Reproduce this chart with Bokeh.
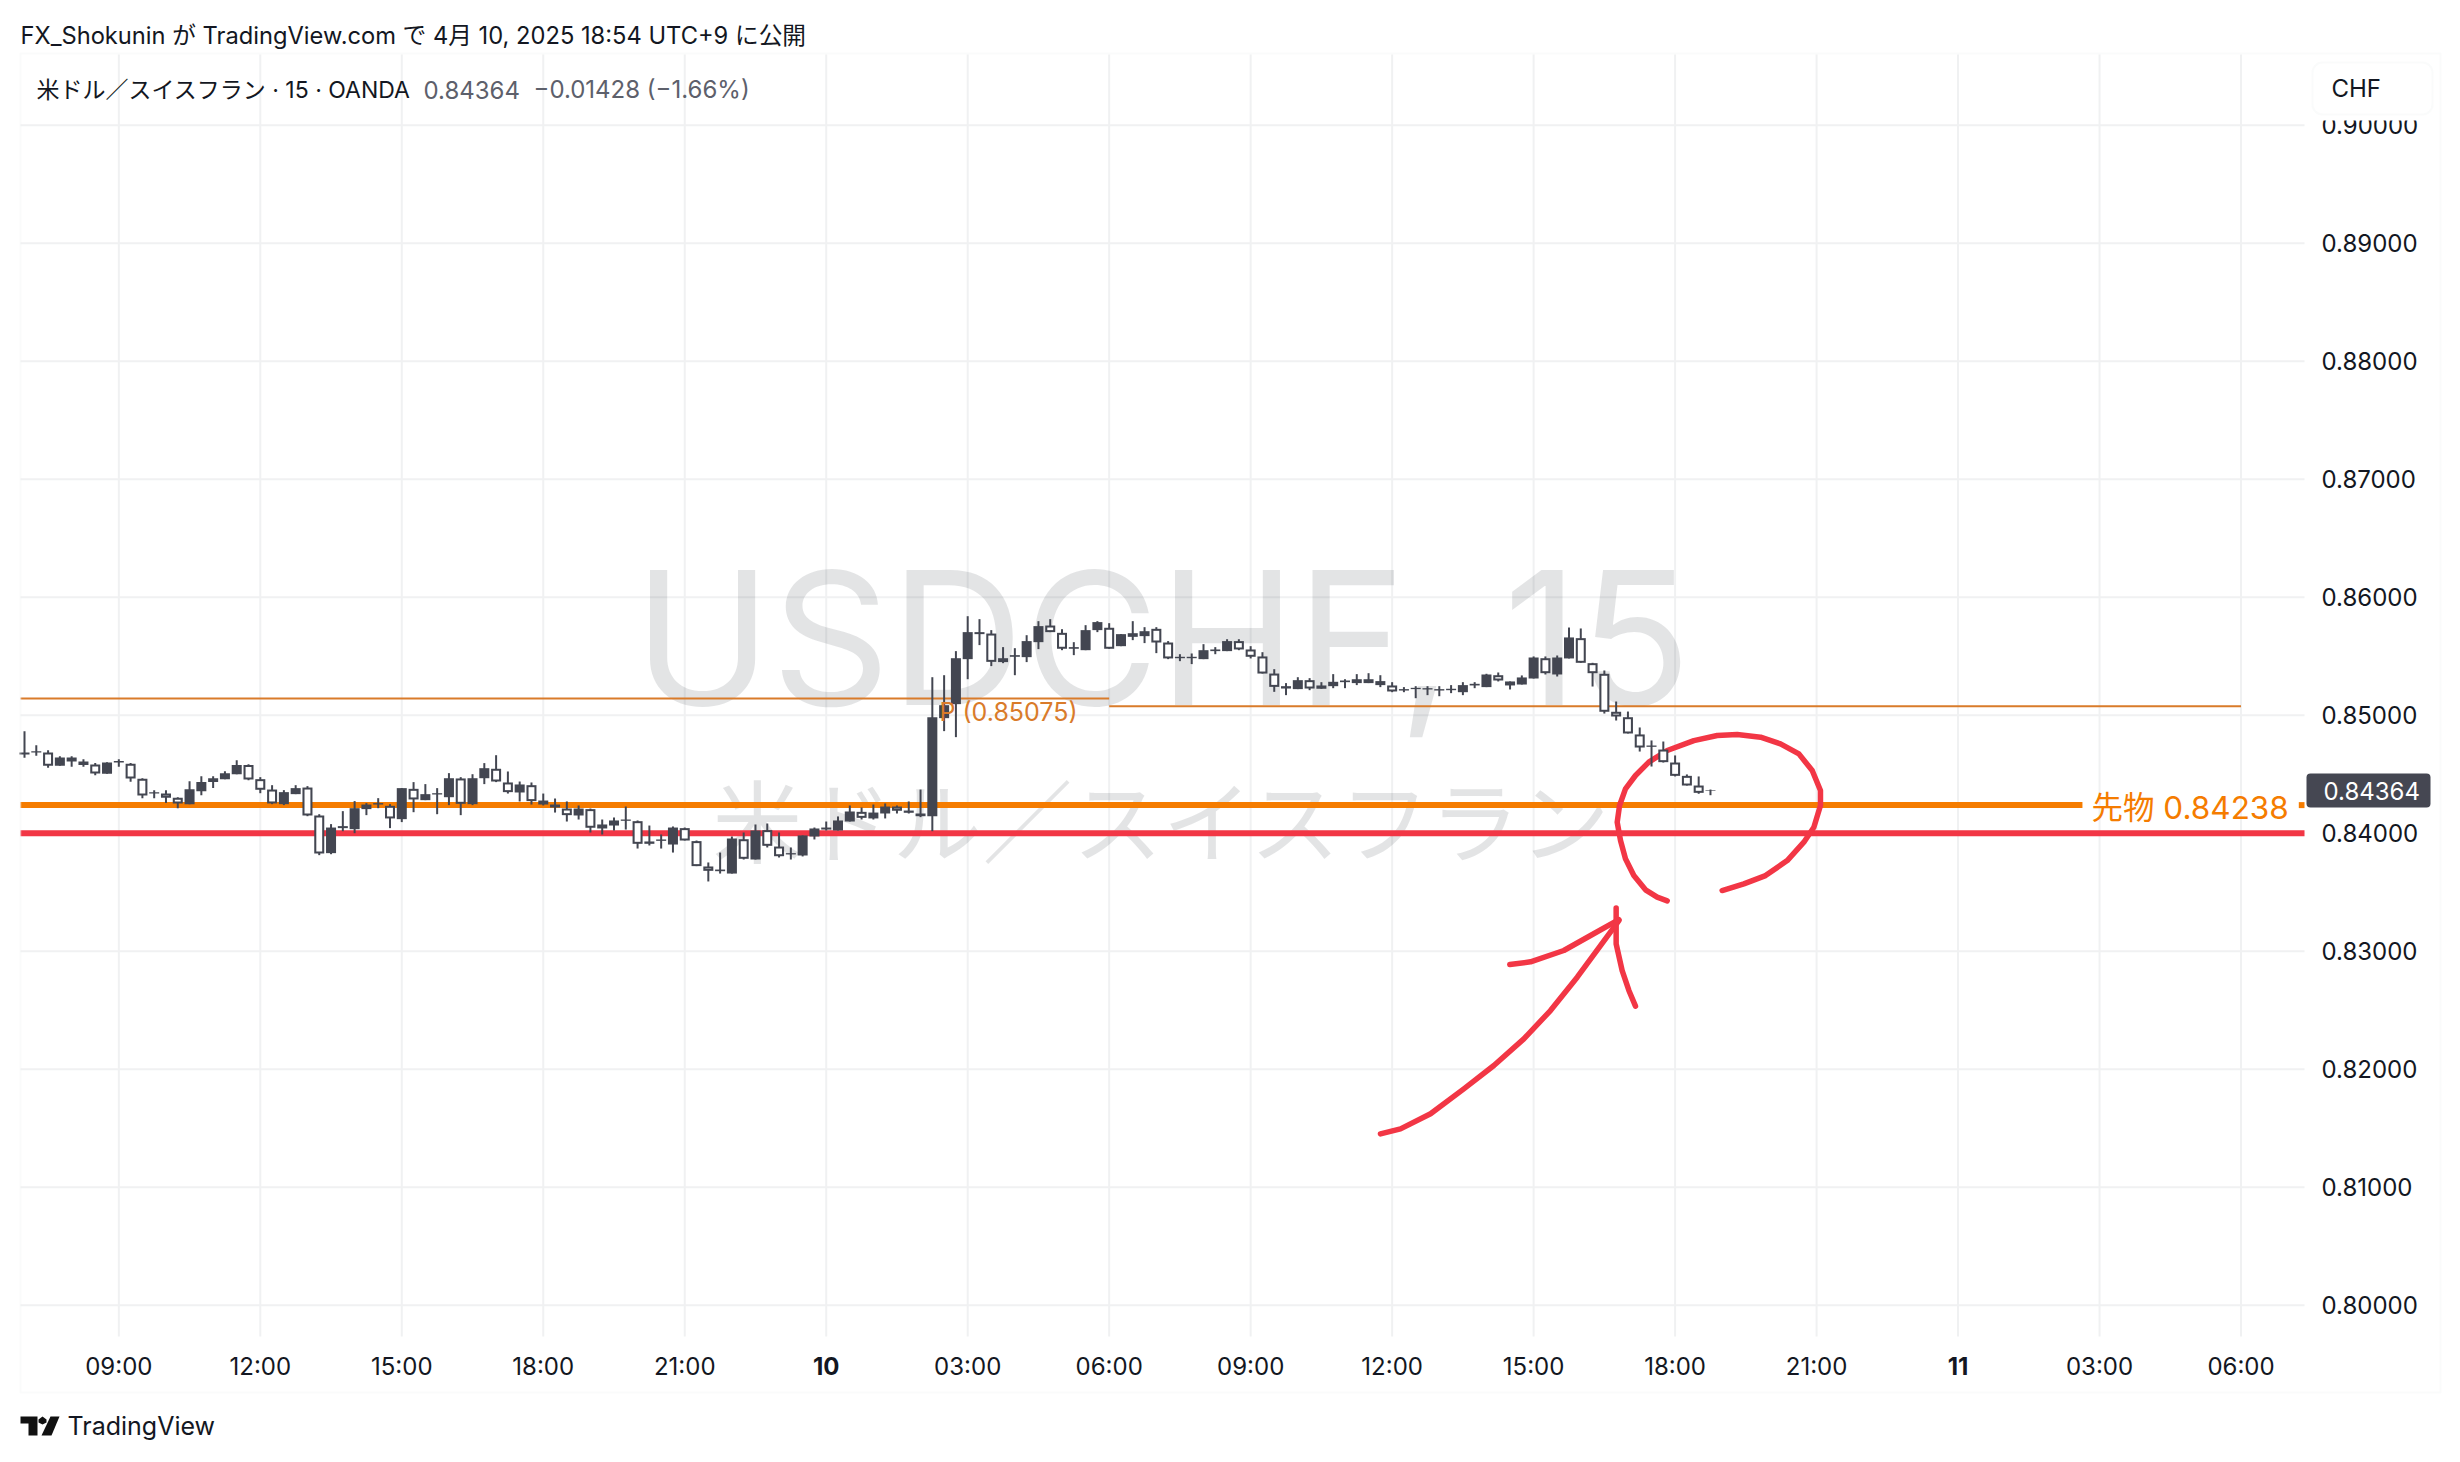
from bokeh.embed import file_html
from bokeh.resources import INLINE
from bokeh.plotting import figure
from bokeh.models import (Range1d, FixedTicker, NumeralTickFormatter, Label, BoxAnnotation,
                          PolyAnnotation, ColumnDataSource)

# ---------- data ----------
highs = [.84865,.84746,.84704,.84653,.84653,.84627,.84594,.84602,.84627,.84594,
.84466,.84365,.84365,.84305,.84441,.84483,.84483,.84526,.84619,.84585,
.84475,.84407,.84365,.84407,.84399,.84161,.84077,.84187,.84272,.84255,
.84297,.84246,.84382,.84433,.84416,.84382,.84509,.84475,.84500,.84594,
.84661,.84523,.84438,.84430,.84336,.84294,.84269,.84235,.84209,.84116,
.84133,.84226,.84108,.84065,.83989,.84057,.84048,.83938,.83752,.83836,
.83972,.84006,.84074,.84082,.84006,.83879,.83981,.84048,.84099,.84142,
.84235,.84218,.84243,.84252,.84235,.84269,.84370,.85322,.85339,.85543,
.85839,.85814,.85721,.85577,.85568,.85678,.85797,.85814,.85729,.85619,
.85763,.85797,.85780,.85687,.85797,.85746,.85746,.85628,.85517,.85523,
.85602,.85577,.85644,.85644,.85585,.85534,.85390,.85272,.85322,.85314,
.85280,.85348,.85305,.85348,.85356,.85339,.85280,.85238,.85246,.85246,
.85246,.85255,.85280,.85280,.85351,.85362,.85286,.85337,.85498,.85498,
.85506,.85743,.85735,.85444,.85379,.85116,.85031,.84896,.84786,.84777,
.84659,.84498,.84481,.84370]
lows = [.84639,.84656,.84554,.84571,.84563,.84563,.84492,.84503,.84563,.84435,
.84297,.84297,.84255,.84212,.84246,.84322,.84382,.84458,.84500,.84449,
.84339,.84246,.84238,.84331,.84144,.83814,.83822,.84017,.84000,.84153,
.84212,.84043,.84094,.84178,.84280,.84161,.84238,.84153,.84238,.84416,
.84433,.84336,.84269,.84243,.84235,.84175,.84099,.84116,.84006,.83989,
.84023,.84031,.83870,.83896,.83870,.83836,.83938,.83721,.83591,.83658,
.83658,.83777,.83777,.83879,.83794,.83777,.83803,.83947,.84023,.84023,
.84099,.84116,.84116,.84125,.84167,.84167,.84136,.84017,.84865,.84814,
.85305,.85594,.85416,.85441,.85339,.85450,.85560,.85704,.85551,.85509,
.85551,.85704,.85563,.85585,.85636,.85611,.85526,.85475,.85458,.85433,
.85475,.85517,.85543,.85551,.85481,.85353,.85198,.85170,.85221,.85212,
.85224,.85229,.85229,.85255,.85272,.85238,.85195,.85195,.85144,.85170,
.85161,.85187,.85170,.85229,.85238,.85286,.85218,.85260,.85311,.85345,
.85328,.85481,.85444,.85243,.85014,.84955,.84845,.84692,.84565,.84599,
.84481,.84404,.84334,.84322]
opens = [.84667,.84684,.84684,.84571,.84642,.84579,.84582,.84503,.84599,.84588,
.84461,.84336,.84336,.84300,.84246,.84356,.84433,.84458,.84500,.84577,
.84458,.84370,.84246,.84331,.84387,.84150,.83831,.84043,.84034,.84204,
.84243,.84232,.84119,.84376,.84280,.84328,.84305,.84464,.84246,.84466,
.84546,.84430,.84345,.84407,.84243,.84218,.84209,.84150,.84204,.84040,
.84065,.84105,.84102,.83910,.83935,.83904,.84043,.83933,.83718,.83678,
.83658,.83949,.83777,.84026,.83887,.83820,.83811,.83972,.84031,.84023,
.84099,.84181,.84125,.84167,.84226,.84173,.84144,.84144,.84975,.85094,
.85475,.85687,.85692,.85450,.85495,.85492,.85619,.85760,.85698,.85563,
.85551,.85721,.85741,.85585,.85664,.85670,.85732,.85616,.85483,.85483,
.85475,.85543,.85543,.85628,.85557,.85498,.85353,.85226,.85221,.85297,
.85224,.85246,.85280,.85272,.85272,.85255,.85252,.85209,.85221,.85218,
.85209,.85212,.85195,.85252,.85238,.85339,.85252,.85260,.85311,.85483,
.85345,.85481,.85653,.85441,.85351,.85029,.84983,.84837,.84732,.84709,
.84599,.84486,.84404,.84359]
closes = [.84684,.84695,.84571,.84642,.84608,.84608,.84506,.84599,.84611,.84464,
.84320,.84348,.84300,.84252,.84373,.84433,.84466,.84509,.84577,.84455,
.84368,.84252,.84348,.84382,.84150,.83828,.84048,.84060,.84212,.84243,
.84255,.84125,.84382,.84286,.84331,.84339,.84466,.84249,.84466,.84551,
.84438,.84348,.84413,.84272,.84277,.84243,.84153,.84209,.84046,.84074,
.84108,.84116,.83910,.83930,.83947,.84048,.83938,.83721,.83681,.83692,
.83955,.83783,.84023,.83893,.83805,.83831,.83981,.84040,.84048,.84108,
.84184,.84130,.84175,.84226,.84190,.84192,.84167,.84983,.85085,.85483,
.85704,.85704,.85452,.85483,.85509,.85628,.85755,.85704,.85563,.85577,
.85721,.85789,.85563,.85687,.85695,.85712,.85616,.85481,.85495,.85495,
.85551,.85557,.85628,.85557,.85495,.85353,.85240,.85246,.85297,.85226,
.85252,.85283,.85294,.85305,.85305,.85289,.85201,.85221,.85232,.85229,
.85221,.85224,.85255,.85266,.85345,.85294,.85286,.85320,.85489,.85356,
.85489,.85659,.85444,.85356,.85029,.84989,.84845,.84726,.84743,.84602,
.84486,.84404,.84342,.84364]

price_ticks = [.80,.81,.82,.83,.84,.85,.86,.87,.88,.89,.90]
time_ticks = [8,20,32,44,56,68,80,92,104,116,128,140,152,164,176,188]
time_labels = ["09:00","12:00","15:00","18:00","21:00","10","03:00","06:00","09:00","12:00","15:00","18:00","21:00","11","03:00","06:00"]

pivot_prev = 0.85142
pivot_now = 0.85075
futures = 0.84238
support = 0.84000
last_price = 0.84364

circle_bars = [139.33,138.48,137.49,136.50,135.79,135.37,135.09,135.29,135.79,136.64,137.77,139.33,141.59,143.57,145.27,147.25,148.94,150.50,151.63,152.33,152.33,151.77,150.92,149.51,147.67,145.83,143.99]
circle_prices = [.83427,.83458,.83520,.83641,.83783,.83938,.84093,.84235,.84376,.84489,.84602,.84701,.84785,.84828,.84836,.84814,.84757,.84672,.84531,.84362,.84235,.84051,.83924,.83768,.83641,.83571,.83514]
shaft_bars = [115.01,116.71,119.26,122.08,124.63,127.17,129.43,131.70,133.67,135.23]
shaft_prices = [.81452,.81494,.81622,.81833,.82031,.82257,.82497,.82780,.83048,.83260]
barb1_bars = [125.98,127.74,130.56,132.83,135.23]
barb1_prices = [.82887,.82910,.83006,.83133,.83268]
barb2_bars = [135.00,135.00,135.51,136.08,136.64]
barb2_prices = [.83367,.83062,.82836,.82667,.82534]

# ---------- style ----------
FONT = "Inter, 'Noto Sans CJK JP'"
INK = "#131722"
GRID = "#f0f1f2"
CANDLE = "#434651"
ORANGE = "#f57c00"
PIVOT = "#d97b2a"
RED = "#f23645"
PX_PER_PRICE = 11800.0
PX_PER_BAR = 11.79
W, H = 2460, 1462
# plot pane limits in data units
X_LEFT, X_RIGHT = (20 - 24) / PX_PER_BAR, (2304 - 24) / PX_PER_BAR
Y_TOP, Y_BOTTOM = 0.85 + (714.7 - 54) / PX_PER_PRICE, 0.85 - (1336 - 714.7) / PX_PER_PRICE

p = figure(width=W, height=H, output_backend="svg", toolbar_location=None,
           x_range=Range1d(-24 / PX_PER_BAR, (W - 24) / PX_PER_BAR),
           y_range=Range1d(0.85 - (H - 714.7) / PX_PER_PRICE, 0.85 + 714.7 / PX_PER_PRICE),
           y_axis_location="right", min_border=0, background_fill_color="white",
           border_fill_color="white", outline_line_color=None)

p.xaxis.ticker = FixedTicker(ticks=time_ticks)
p.xaxis.major_label_overrides = {t: ("" if l in ("10", "11") else l) for t, l in zip(time_ticks, time_labels)}
p.yaxis.ticker = FixedTicker(ticks=price_ticks)
p.yaxis.formatter = NumeralTickFormatter(format="0.00000")
for ax in (p.xaxis[0], p.yaxis[0]):
    ax.axis_line_color = None
    ax.major_tick_line_color = None
    ax.minor_tick_line_color = None
    ax.major_label_text_font = FONT
    ax.major_label_text_font_size = "24px"
    ax.major_label_text_color = INK
p.yaxis.fixed_location = X_RIGHT
p.xaxis.fixed_location = Y_BOTTOM
p.yaxis.major_label_standoff = 11
p.xaxis.major_label_standoff = 9
p.xgrid.visible = False
p.ygrid.visible = False
# pane-limited grid lines
p.segment(time_ticks, [Y_BOTTOM] * len(time_ticks), time_ticks, [Y_TOP] * len(time_ticks), line_color=GRID, line_width=2, level="underlay")
p.segment([X_LEFT] * len(price_ticks), price_ticks, [X_RIGHT] * len(price_ticks), price_ticks, line_color=GRID, line_width=2, level="underlay")

def canvas_label(text, x, y, size, color=INK, align="left", baseline="middle", weight="normal", font=FONT, level="annotation"):
    lab = Label(text=text, x=x, y=y, x_units="canvas", y_units="canvas", text_font=font,
                text_font_size=f"{size}px", text_color=color, text_align=align, text_baseline=baseline,
                text_font_style=weight, level=level)
    p.add_layout(lab)
    return lab

def canvas_box(l, r, t, b, **kw):
    p.add_layout(BoxAnnotation(left=l, right=r, top=t, bottom=b, left_units="canvas", right_units="canvas",
                               top_units="canvas", bottom_units="canvas", **kw))

# watermark
canvas_label("USDCHF, 15", 1162, 637, 185, color="#1317221e", align="center", level="underlay")
canvas_label("米ドル／スイスフラン", 1162, 823, 90, color="#1317221e", align="center", level="underlay")

# horizontal levels
levels = ColumnDataSource(dict(
    x0=[X_LEFT, 92.0, X_LEFT, 192.9, X_LEFT],
    x1=[92.0, 188.0, 174.55, X_RIGHT, X_RIGHT],
    y=[pivot_prev, pivot_now, futures, futures, support],
    c=[PIVOT, PIVOT, ORANGE, ORANGE, RED],
    w=[2, 2, 6, 6, 6]))
p.segment("x0", "y", "x1", "y", source=levels, line_color="c", line_width="w")
canvas_label("P (0.85075)", 939, 711, 25, color=PIVOT)
canvas_label("先物 0.84238", 2091, 807, 31.5, color=ORANGE)

# freehand drawing
for xs, ys in ((circle_bars, circle_prices), (shaft_bars, shaft_prices), (barb1_bars, barb1_prices), (barb2_bars, barb2_prices)):
    p.line(xs, ys, line_color=RED, line_width=5.5, line_cap="round", line_join="round")

# candles
idx = list(range(len(opens)))
tops = [max(o, c) for o, c in zip(opens, closes)]
bots = [min(o, c) for o, c in zip(opens, closes)]
inset = 2 / PX_PER_PRICE
p.segment(idx, lows, idx, highs, line_color=CANDLE, line_width=2)
p.vbar(x=idx, top=tops, bottom=bots, width=0.85, fill_color=CANDLE, line_color=None)
hollow = [i for i in idx if closes[i] < opens[i] and tops[i] - bots[i] > 2 * inset]
p.vbar(x=hollow, top=[tops[i] - inset for i in hollow], bottom=[bots[i] + inset for i in hollow],
       width=0.50, fill_color="white", line_color=None)

# bold day labels on time axis
for t, l in zip(time_ticks, time_labels):
    if l in ("10", "11"):
        p.add_layout(Label(text=l, x=t, y=1365, x_units="data", y_units="canvas", text_font=FONT,
                           text_font_size="24px", text_font_style="bold", text_color=INK,
                           text_align="center", text_baseline="middle"))

# outer frame
canvas_box(20, 2440, 53, 1392, fill_color=None, line_color=GRID, line_width=2)
# last price tag
canvas_box(2306, 2430, 773, 807, fill_color="#454752", fill_alpha=1, line_color=None, border_radius=4)
canvas_label("0.84364", 2323, 790, 24, color="white")
# currency box with its white halo
canvas_box(2306, 2438, 62, 120, fill_color="white", fill_alpha=1, line_color=None)
canvas_box(2312, 2432, 62, 114, fill_color="white", fill_alpha=1, line_color=GRID, line_width=2, border_radius=10)
canvas_label("CHF", 2331, 88, 24)

# headers
canvas_label("FX_Shokunin が TradingView.com で 4月 10, 2025 18:54 UTC+9 に公開", 20, 35, 23.7)
canvas_label("米ドル／スイスフラン · 15 · OANDA", 36, 89, 23)
canvas_label("0.84364", 423, 89, 24, color="#5d606b")
canvas_label("−0.01428 (−1.66%)", 533, 89, 24, color="#5d606b")

# TradingView mark
def mark(xs, ys):
    p.add_layout(PolyAnnotation(xs=xs, ys=ys, xs_units="canvas", ys_units="canvas",
                                fill_color="#111111", fill_alpha=1, line_color=None))
mark([20, 37, 37, 28, 28, 20], [1416, 1416, 1435, 1435, 1423, 1423])
mark([38, 42, 46, 46, 42, 38], [1419, 1416, 1419, 1422, 1424, 1422])
mark([50, 59, 51, 41], [1416, 1416, 1435, 1435])
canvas_label("TradingView", 67, 1425, 25, color="#131722")

open("out.html", "w").write(file_html(p, INLINE))
